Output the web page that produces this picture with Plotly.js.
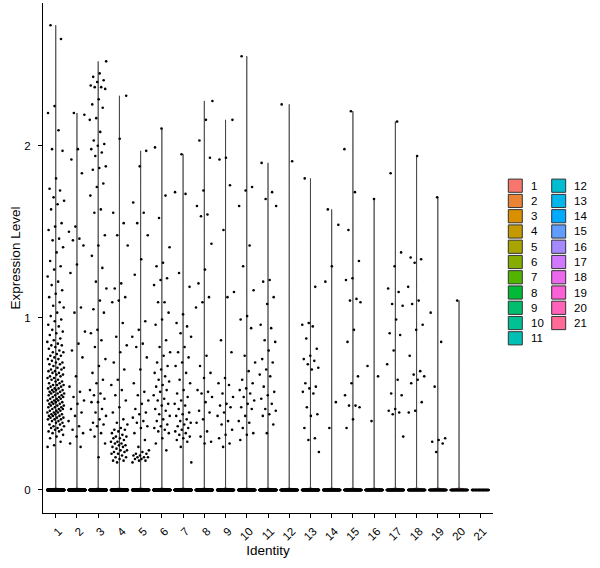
<!DOCTYPE html>
<html>
<head>
<meta charset="utf-8">
<script src="https://cdn.plot.ly/plotly-3.0.1.min.js"></script>
<style>body{margin:0;background:#fff}#plot{width:600px;height:568px}</style>
</head>
<body>
<div id="plot"></div>
<script>
// identities on the x axis
var clusters = ['1','2','3','4','5','6','7','8','9','10','11','12','13','14','15','16','17','18','19','20','21'];
// cells with zero expression in each identity (the band at 0)
var zeroCells = [420, 300, 320, 300, 280, 300, 280, 240, 220, 220, 200, 180, 170, 160, 150, 140, 130, 110, 90, 70, 50];

// non-zero expression values, per identity
var c1 = [2.70, 2.62, 2.23, 2.19, 2.09, 1.98, 1.97, 1.81, 1.75, 1.74, 1.70, 1.68, 1.66, 1.63, 1.55, 1.53, 1.51, 1.46, 1.45, 1.41,
  1.38, 1.33, 1.30, 1.28, 1.24, 1.21, 1.19, 1.16, 1.14, 1.12, 1.09, 1.07, 1.06, 1.03, 1.01,
  0.99, 0.98, 0.96, 0.95, 0.93, 0.92, 0.91, 0.90, 0.88, 0.87, 0.86, 0.85, 0.84, 0.84, 0.83, 0.82, 0.81, 0.80, 0.80, 0.79,
  0.78, 0.78, 0.77, 0.76, 0.76, 0.75, 0.74, 0.74, 0.73, 0.73, 0.72, 0.71, 0.71, 0.70, 0.70, 0.69, 0.69, 0.68, 0.68, 0.67,
  0.67, 0.66, 0.66, 0.65, 0.65, 0.64, 0.64, 0.63, 0.63, 0.62, 0.62, 0.61, 0.61, 0.61, 0.60, 0.60, 0.59, 0.59, 0.59, 0.58,
  0.58, 0.58, 0.57, 0.57, 0.57, 0.56, 0.56, 0.56, 0.55, 0.55, 0.55, 0.54, 0.54, 0.54, 0.53, 0.53, 0.53, 0.52, 0.52, 0.52,
  0.51, 0.51, 0.51, 0.50, 0.50, 0.50, 0.49, 0.49, 0.49, 0.48, 0.48, 0.48, 0.47, 0.47, 0.47, 0.46, 0.46, 0.46, 0.45, 0.45,
  0.45, 0.44, 0.44, 0.44, 0.43, 0.43, 0.43, 0.42, 0.42, 0.42, 0.41, 0.41, 0.41, 0.40, 0.40, 0.39, 0.39, 0.38, 0.38, 0.37,
  0.37, 0.36, 0.36, 0.35, 0.35, 0.34, 0.34, 0.33, 0.32, 0.31, 0.30, 0.28, 0.26, 0.25];
var c2 = [2.19, 2.18, 1.98, 1.92, 1.84, 1.53, 1.50, 1.46, 1.45, 1.42, 1.31, 1.26, 1.06, 1.03, 0.92, 0.85, 0.81, 0.77, 0.66,
  0.60, 0.57, 0.54, 0.52, 0.50, 0.47, 0.45, 0.43, 0.40, 0.37, 0.35, 0.33, 0.31, 0.27, 0.25];
var c3 = [2.49, 2.42, 2.40, 2.38, 2.37, 2.35, 2.34, 2.34, 2.33, 2.27, 2.24, 2.22, 2.16, 2.15, 2.08, 2.03, 2.01, 2.00, 1.98,
  1.96, 1.94, 1.88, 1.87, 1.86, 1.78, 1.76, 1.71, 1.63, 1.61, 1.48, 1.42, 1.36, 1.29, 1.21, 1.17, 1.10, 1.05, 1.03, 0.93,
  0.91, 0.87, 0.83, 0.76, 0.72, 0.68, 0.64, 0.62, 0.58, 0.56, 0.55, 0.53, 0.51, 0.51, 0.47, 0.45, 0.43, 0.41, 0.39, 0.38,
  0.37, 0.35, 0.33, 0.31, 0.27, 0.19];
var c4 = [2.29, 2.04, 1.61, 1.55, 1.48, 1.42, 1.20, 1.17, 1.12, 1.10, 1.09, 0.97, 0.89, 0.84, 0.80, 0.74, 0.70, 0.64, 0.61,
  0.58, 0.55, 0.52, 0.48, 0.45, 0.41, 0.39, 0.38, 0.36, 0.35, 0.35, 0.34, 0.33, 0.32, 0.31, 0.31, 0.30, 0.30, 0.29, 0.28,
  0.28, 0.27, 0.27, 0.26, 0.26, 0.25, 0.25, 0.24, 0.23, 0.23, 0.22, 0.22, 0.21, 0.21, 0.20, 0.19, 0.19, 0.18, 0.17, 0.17, 0.16];
var c5 = [1.97, 1.88, 1.67, 1.61, 1.55, 1.48, 1.34, 1.25, 0.98, 0.93, 0.89, 0.85, 0.83, 0.77, 0.70, 0.62, 0.57, 0.55, 0.52,
  0.50, 0.47, 0.45, 0.44, 0.42, 0.40, 0.39, 0.37, 0.36, 0.33, 0.29, 0.25, 0.23, 0.22, 0.21, 0.21, 0.20, 0.20, 0.19, 0.19,
  0.19, 0.18, 0.18, 0.17, 0.17, 0.16];
var c6 = [2.10, 1.99, 1.71, 1.58, 1.41, 1.32, 1.30, 1.23, 1.22, 1.19, 1.09, 1.09, 1.03, 0.99, 0.96, 0.87, 0.83, 0.80, 0.78,
  0.74, 0.72, 0.70, 0.68, 0.66, 0.64, 0.63, 0.61, 0.60, 0.58, 0.57, 0.55, 0.53, 0.52, 0.50, 0.49, 0.47, 0.46, 0.44, 0.43,
  0.41, 0.40, 0.38, 0.37, 0.36, 0.35, 0.34, 0.33, 0.30, 0.27, 0.23];
var c7 = [1.95, 1.73, 1.72, 1.26, 1.18, 1.02, 0.97, 0.95, 0.91, 0.89, 0.83, 0.80, 0.77, 0.74, 0.72, 0.68, 0.64, 0.62, 0.58,
  0.56, 0.54, 0.52, 0.50, 0.49, 0.47, 0.45, 0.44, 0.43, 0.41, 0.40, 0.39, 0.38, 0.37, 0.36, 0.35, 0.34, 0.33, 0.32, 0.31,
  0.30, 0.29, 0.28, 0.25, 0.16];
var c8 = [2.26, 2.15, 2.03, 1.93, 1.74, 1.65, 1.60, 1.59, 1.43, 1.28, 1.20, 1.12, 1.09, 1.06, 0.78, 0.72, 0.68, 0.65, 0.58,
  0.57, 0.56, 0.54, 0.51, 0.46, 0.45, 0.41, 0.39, 0.34, 0.31, 0.28, 0.27];
var c9 = [2.15, 1.93, 1.92, 1.77, 1.51, 1.15, 1.12, 0.87, 0.80, 0.65, 0.62, 0.61, 0.56, 0.54, 0.50, 0.49, 0.48, 0.45, 0.43,
  0.40, 0.38, 0.35, 0.32, 0.30, 0.27, 0.25];
var c10 = [2.52, 1.76, 1.74, 1.65, 1.42, 1.30, 1.16, 1.01, 0.99, 0.94, 0.78, 0.74, 0.69, 0.64, 0.62, 0.59, 0.58, 0.56, 0.54,
  0.52, 0.50, 0.48, 0.47, 0.43, 0.40, 0.39, 0.36, 0.33, 0.32, 0.29];
var c11 = [1.90, 1.73, 1.69, 1.65, 1.22, 1.21, 1.12, 1.08, 0.96, 0.94, 0.87, 0.86, 0.81, 0.76, 0.74, 0.70, 0.67, 0.66, 0.60,
  0.57, 0.55, 0.53, 0.50, 0.47, 0.46, 0.44, 0.43, 0.38, 0.33];
var c12 = [2.24, 1.91];
var c13 = [1.81, 1.18, 0.97, 0.96, 0.95, 0.88, 0.82, 0.78, 0.76, 0.75, 0.73, 0.71, 0.70, 0.62, 0.60, 0.59, 0.57, 0.56, 0.48,
  0.44, 0.43, 0.36, 0.30, 0.29, 0.22];
var c14 = [1.63, 1.54, 1.30, 1.21, 0.51, 0.36];
var c15 = [2.20, 1.98, 1.73, 1.51, 1.33, 1.23, 1.22, 1.11, 1.10, 1.09, 0.93, 0.86, 0.66, 0.62, 0.55, 0.49, 0.49, 0.48, 0.41, 0.36];
var c16 = [1.69, 0.72, 0.66, 0.40];
var c17 = [2.14, 1.84, 1.38, 1.30, 1.17, 1.15, 1.08, 1.07, 0.99, 0.91, 0.90, 0.81, 0.73, 0.64, 0.56, 0.55, 0.47, 0.46, 0.45,
  0.44, 0.31];
var c18 = [1.94, 1.35, 1.34, 1.32, 1.18, 1.10, 1.08, 0.96, 0.93, 0.78, 0.69, 0.67, 0.66, 0.64, 0.62, 0.51, 0.46, 0.45];
var c19 = [1.70, 1.03, 0.86, 0.60, 0.30, 0.29, 0.28, 0.27, 0.22];
var c20 = [1.10];
var c21 = [];

var nonZero = [c1, c2, c3, c4, c5, c6, c7, c8, c9, c10, c11, c12, c13, c14, c15, c16, c17, c18, c19, c20, c21];

// ggplot-like hue palette (hcl, c=100, l=65)
function hueColor(h) {
  var l = 65, c = 100, hr = h * Math.PI / 180;
  var U = c * Math.cos(hr), V = c * Math.sin(hr);
  var Y = Math.pow((l + 16) / 116, 3);
  var Xn = 0.95047, Yn = 1, Zn = 1.08883;
  var den = Xn + 15 * Yn + 3 * Zn;
  var u = U / (13 * l) + 4 * Xn / den, v = V / (13 * l) + 9 * Yn / den;
  var X = 9 * Y * u / (4 * v);
  var Z = Y * (12 - 3 * u - 20 * v) / (4 * v);
  var rgb = [3.240479 * X - 1.537150 * Y - 0.498535 * Z,
            -0.969256 * X + 1.875992 * Y + 0.041556 * Z,
             0.055648 * X - 0.204043 * Y + 1.057311 * Z];
  return 'rgb(' + rgb.map(function (t) {
    t = t <= 0.0031308 ? 12.92 * t : 1.055 * Math.pow(t, 1 / 2.4) - 0.055;
    return Math.round(255 * Math.min(1, Math.max(0, t)));
  }).join(',') + ')';
}

var n = clusters.length;
var colors = [], positions = [];
for (var i = 0; i < n; i++) {
  colors.push(hueColor(15 + i * 360 / n));
  positions.push(i + 1);
}

var traces = [];
var px = [], py = [];
for (var k = 0; k < n; k++) {
  var vals = [];
  for (var z = 0; z < zeroCells[k]; z++) vals.push(0);
  vals = vals.concat(nonZero[k]);
  if (nonZero[k].length) {
    traces.push({
      type: 'violin', x0: positions[k], y: vals, name: clusters[k],
      width: 0.9, bandwidth: 0.005, spanmode: 'hard', scalemode: 'width',
      points: false, box: {visible: false}, meanline: {visible: false},
      fillcolor: colors[k], line: {color: '#000', width: 0.6},
      hoverinfo: 'skip', showlegend: false
    });
  }
  // jitter like geom_jitter(width = 0.4, height = 0)
  for (var j = 0; j < vals.length; j++) {
    var f = ((j + 1) * 0.6180339887 + k * 0.29) % 1;
    px.push(positions[k] - 0.4 + 0.8 * f);
    py.push(vals[j]);
  }
}
traces.push({
  type: 'scatter', mode: 'markers', x: px, y: py,
  marker: {size: 2.6, color: '#000'}, hoverinfo: 'skip', showlegend: false
});

// legend drawn by hand: two columns of keys
var L = 43, T = 3, W = 450, H = 510;
function xp(p) { return (p - L) / W; }
function yp(p) { return (T + H - p) / H; }
var shapes = [], annotations = [];
for (var i = 0; i < n; i++) {
  var col = i < 11 ? 0 : 1;
  var row = col ? i - 11 : i;
  var kx = col ? 551.7 : 508.3;
  var cy = 185.7 + row * 15.26;
  shapes.push({type: 'rect', xref: 'paper', yref: 'paper',
    x0: xp(kx), x1: xp(kx + 14), y0: yp(cy + 6.6), y1: yp(cy - 6.6),
    fillcolor: colors[i], line: {color: '#333', width: 1}});
  annotations.push({xref: 'paper', yref: 'paper', x: xp(kx + 20.5), y: yp(cy),
    text: clusters[i], showarrow: false, xanchor: 'left', yanchor: 'middle',
    font: {size: 11.5, color: '#000'}});
}

var layout = {
  width: 600, height: 568,
  margin: {l: L, r: 600 - L - W, t: T, b: 568 - T - H},
  paper_bgcolor: '#fff', plot_bgcolor: '#fff',
  font: {family: 'Liberation Sans, Arial, sans-serif', size: 11, color: '#000'},
  showlegend: false, hovermode: false, violinmode: 'overlay',
  xaxis: {
    type: 'linear', range: [0.4, 21.6], tickvals: positions, ticktext: clusters, tickangle: -45,
    ticks: 'outside', ticklen: 4, tickwidth: 1, tickcolor: '#000',
    ticklabelshift: 3, ticklabelstandoff: 2,
    showline: true, linecolor: '#000', linewidth: 1, showgrid: false, zeroline: false,
    tickfont: {size: 11.5, color: '#000'}, automargin: true,
    title: {text: 'Identity', standoff: 1, font: {size: 13.5, color: '#000'}}
  },
  yaxis: {
    range: [-0.134, 2.829], tickvals: [0, 1, 2], ticktext: ['0', '1', '2'],
    ticks: 'outside', ticklen: 4, tickwidth: 1, tickcolor: '#000', ticklabelstandoff: 5,
    showline: true, linecolor: '#000', linewidth: 1, showgrid: false, zeroline: false,
    tickfont: {size: 11.5, color: '#000'}, automargin: true,
    title: {text: 'Expression Level', standoff: 0, font: {size: 13.5, color: '#000'}}
  },
  shapes: shapes,
  annotations: annotations
};

Plotly.newPlot('plot', traces, layout, {staticPlot: true});
</script>
</body>
</html>
